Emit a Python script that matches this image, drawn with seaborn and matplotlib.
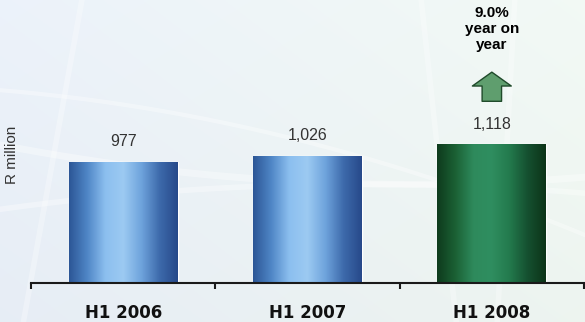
import numpy as np
import pandas as pd
import matplotlib
matplotlib.use("Agg")
import matplotlib.pyplot as plt
from matplotlib.colors import LinearSegmentedColormap
from matplotlib.patches import FancyArrowPatch
from matplotlib.transforms import offset_copy, IdentityTransform
import seaborn as sns

# Half-year revenue, R million
periods = ["H1 2006", "H1 2007", "H1 2008"]
revenue = [977, 1026, 1118]
value_labels = ["977", "1,026", "1,118"]
bar_styles = ["blue", "blue", "green"]

df = pd.DataFrame({"period": periods, "revenue": revenue, "style": bar_styles})

sns.set_theme(style="white")
plt.rcParams["font.family"] = ["Liberation Sans", "DejaVu Sans"]

fig = plt.figure(figsize=(5.85, 3.22), dpi=100)

# Soft bluish backdrop with faint white sweeps
bg = fig.add_axes([0, 0, 1, 1], zorder=-10)
bg.set_axis_off()
gx = np.linspace(0, 1, 300)
gy = np.linspace(0, 1, 170)
X, Y = np.meshgrid(gx, gy)
left_col = np.array([0.905, 0.930, 0.962])
right_col = np.array([0.930, 0.958, 0.940])
t = X[..., None]
img = left_col * (1 - t) + right_col * t
img = img + 0.02 * (1 - Y[..., None])
img = np.clip(img, 0, 1)
bg.imshow(img, extent=[0, 1, 0, 1], aspect="auto", origin="upper")
sx = np.linspace(0, 1, 200)
for a, b, c, w in [(0.55, -0.35, 0.25, 5), (0.72, -0.15, -0.3, 3), (0.35, 0.25, -0.2, 4)]:
    bg.plot(sx, a + b * sx + c * sx ** 2, color="white", alpha=0.35, lw=w,
            solid_capstyle="round")
for x0, x1 in [(0.14, 0.04), (0.72, 0.78), (0.88, 0.85)]:
    bg.plot([x0, x1], [1.0, 0.0], color="white", alpha=0.3, lw=4)
bg.set_xlim(0, 1)
bg.set_ylim(0, 1)

ax = fig.add_axes([31 / 585, 39 / 322, 553 / 585, 283 / 322])
ax.patch.set_alpha(0)

sns.barplot(data=df, x="period", y="revenue", hue="style",
            palette={"blue": "#4f86c6", "green": "#1f6b3f"},
            width=0.59, dodge=False, legend=False, ax=ax, saturation=1)

ax.set_xlim(-0.5, 2.5)
ax.set_ylim(0, 2282)

# Cylinder-like shading inside each bar
shades = {
    "blue": LinearSegmentedColormap.from_list(
        "bl", ["#2c5696", "#4f86c6", "#8cbfef", "#9ccaf2", "#6ea3dc", "#3d6aab", "#27498a"]),
    "green": LinearSegmentedColormap.from_list(
        "gr", ["#0e3b1d", "#1b6034", "#2e8a5c", "#2f8e60", "#237a4d", "#155030", "#0c3418"]),
}
grad = np.linspace(0, 1, 256)[None, :]
bars = sorted(ax.patches, key=lambda p: p.get_x())
for bar, style in zip(bars, bar_styles):
    x0, w, h = bar.get_x(), bar.get_width(), bar.get_height()
    im = ax.imshow(grad, cmap=shades[style], aspect="auto",
                   extent=[x0, x0 + w, 0, h], zorder=bar.get_zorder() + 0.1)
    im.set_clip_path(bar)
ax.set_xlim(-0.5, 2.5)
ax.set_ylim(0, 2282)

# Value labels above bars
for i, (v, lab) in enumerate(zip(revenue, value_labels)):
    ax.annotate(lab, (i, v), xytext=(0, 14.5), textcoords="offset points",
                ha="center", va="center", fontsize=11.5, color="#333333")

# Growth call-out over the latest bar
growth = (revenue[2] / revenue[1] - 1) * 100
base = offset_copy(ax.transData, fig=fig, x=0, y=31, units="points")
tip = offset_copy(ax.transData, fig=fig, x=0, y=52, units="points")
arr = FancyArrowPatch(
    posA=base.transform((2, revenue[2])), posB=tip.transform((2, revenue[2])),
    arrowstyle="simple,head_length=10,head_width=28,tail_width=14",
    mutation_scale=1, facecolor="#5f9e6e", edgecolor="#1f4a2a", lw=1.0,
    shrinkA=0, shrinkB=0, zorder=5)
arr.set_transform(IdentityTransform())
fig.add_artist(arr)
fig.text(492 / 585, 1 - 29 / 322, f"{growth:.1f}%\nyear on\nyear",
         ha="center", va="center", fontsize=11, fontweight="bold",
         color="black", linespacing=1.22)

# Axis styling: baseline with tick marks between categories
sns.despine(ax=ax, left=True, top=True, right=True)
ax.spines["bottom"].set_color("#1a1a1a")
ax.spines["bottom"].set_linewidth(1.5)
ax.set_yticks([])
ax.set_xlabel("")
ax.set_ylabel("R million", fontsize=11, color="#333333")
ax.yaxis.set_label_coords(-0.021, 128 / 283)
ax.set_xticks(range(len(periods)))
ax.set_xticklabels(periods, fontsize=12, fontweight="heavy",
                   family="DejaVu Sans", color="#111111")
ax.tick_params(axis="x", which="major", length=0, pad=15)
ax.set_xticks([-0.5, 0.5, 1.5, 2.5], minor=True)
ax.tick_params(axis="x", which="minor", length=4.5, width=1.5,
               color="#1a1a1a", direction="out", bottom=True)

fig.savefig("out.png", dpi=100)
